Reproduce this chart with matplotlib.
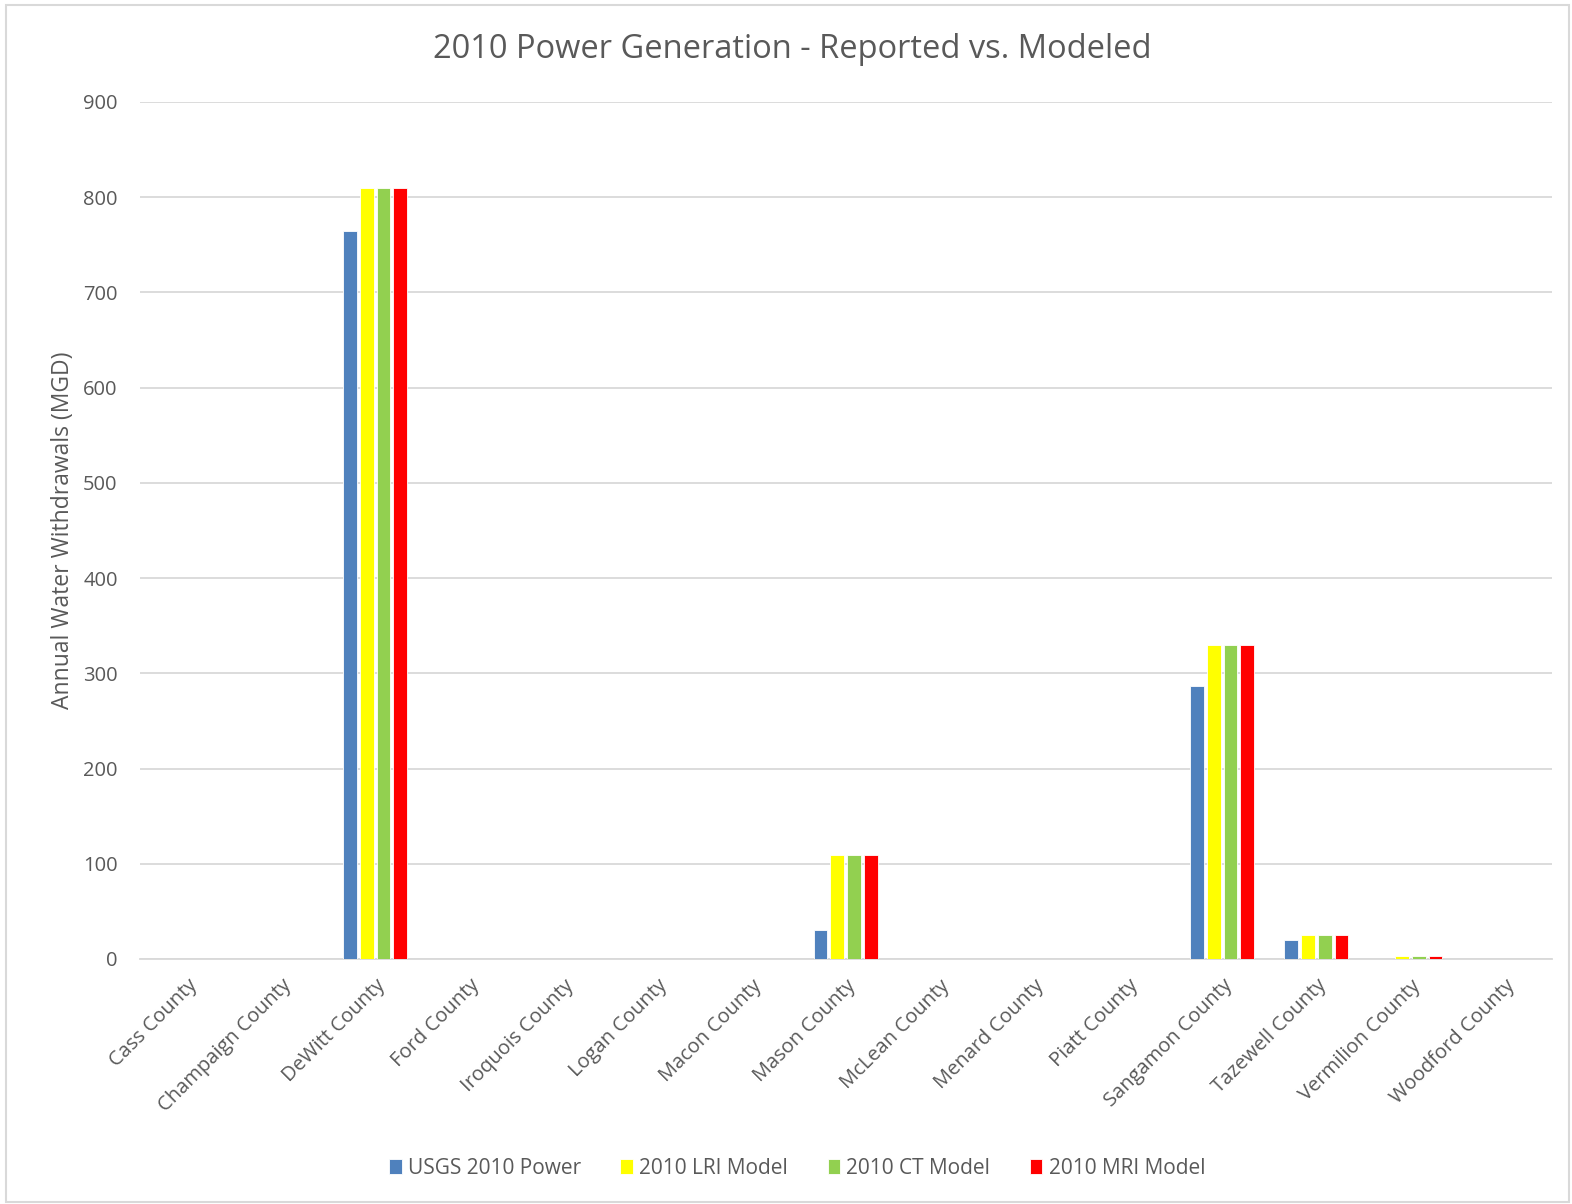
import matplotlib.pyplot as plt
import matplotlib.patches as patches
import numpy as np

counties = ['Cass County', 'Champaign County', 'DeWitt County', 'Ford County',
            'Iroquois County', 'Logan County', 'Macon County', 'Mason County',
            'McLean County', 'Menard County', 'Piatt County', 'Sangamon County',
            'Tazewell County', 'Vermilion County', 'Woodford County']

usgs_2010 = [0, 0, 765, 0, 0, 0, 0, 30, 0, 0, 0, 287, 20, 0, 0]
lri_2010 = [0, 0, 810, 0, 0, 0, 0, 109, 0, 0, 0, 330, 25, 3, 0]
ct_2010 = [0, 0, 810, 0, 0, 0, 0, 109, 0, 0, 0, 330, 25, 3, 0]
mri_2010 = [0, 0, 810, 0, 0, 0, 0, 109, 0, 0, 0, 330, 25, 3, 0]

series = [
    ('USGS 2010 Power', usgs_2010, '#4F81BD'),
    ('2010 LRI Model', lri_2010, '#FFFF00'),
    ('2010 CT Model', ct_2010, '#92D050'),
    ('2010 MRI Model', mri_2010, '#FF0000'),
]

text_color = '#595959'
plt.rcParams['font.family'] = ['Open Sans', 'DejaVu Sans']

fig = plt.figure(figsize=(15.72, 12.04), dpi=100)
ax = fig.add_axes([0.089, 0.2035, 0.898, 0.7118])

x = np.arange(len(counties))
slot = 0.178
for i, (label, vals, color) in enumerate(series):
    ax.bar(x + (i - 1.5) * slot, vals, width=slot * 0.82, color=color,
           edgecolor='white', linewidth=0.6, label=label, zorder=3)

ax.set_xlim(-0.5, len(counties) - 0.5)
ax.set_ylim(0, 900)
ax.set_yticks(range(0, 901, 100))
ax.tick_params(axis='y', length=0, labelsize=14.5, colors=text_color, pad=16)
ax.tick_params(axis='x', length=0, pad=12)
ax.yaxis.grid(True, color='#D9D9D9', linewidth=1.3, zorder=0)
for s in ['top', 'right', 'left']:
    ax.spines[s].set_visible(False)
ax.spines['bottom'].set_color('#D9D9D9')
ax.spines['bottom'].set_linewidth(1.3)

ax.set_xticks(x)
ax.set_xticklabels(counties, rotation=45, ha='right', va='top',
                   rotation_mode='anchor', fontsize=14.5, color=text_color)

ax.set_ylabel('Annual Water Withdrawals (MGD)', fontsize=16.5, color=text_color,
              labelpad=6)
fig.text(0.504, 0.9585, '2010 Power Generation - Reported vs. Modeled',
         ha='center', va='center', fontsize=23.5, color=text_color)

ax.legend(loc='center', bbox_to_anchor=(0.507, 1 - 1168 / 1204), ncol=4,
          bbox_transform=fig.transFigure, frameon=False, fontsize=15,
          handlelength=0.6, handleheight=0.75, handletextpad=0.3,
          columnspacing=1.9, labelcolor=text_color)

# light frame around the chart area
fig.patches.append(patches.Rectangle((0.004, 0.002), 0.994, 0.994,
                                     transform=fig.transFigure, fill=False,
                                     edgecolor='#D9D9D9', linewidth=1.5))

fig.savefig('out.png', dpi=100)
